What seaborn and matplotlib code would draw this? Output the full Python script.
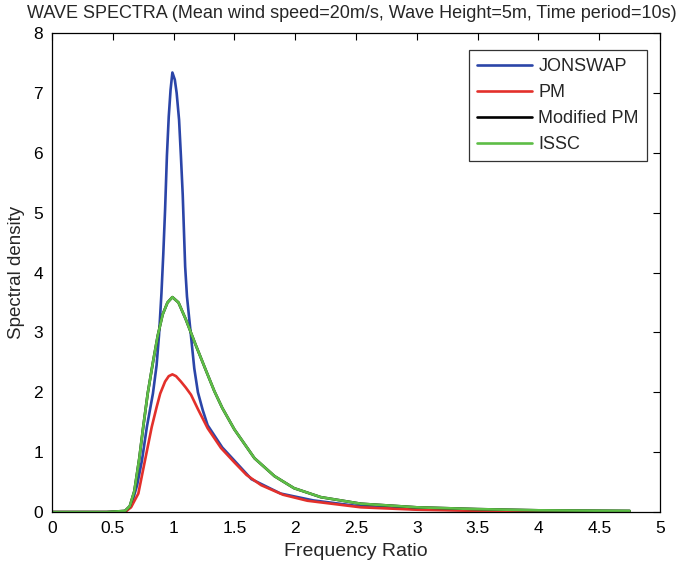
import numpy as np
import pandas as pd
import matplotlib
matplotlib.use('Agg')
import matplotlib.pyplot as plt
import seaborn as sns

sns.set_style('white')
plt.rcParams['font.family'] = ['Liberation Sans', 'DejaVu Sans']

# values
jonswap_x = [0, 0.6, 0.65, 0.7, 0.74, 0.78, 0.83, 0.86, 0.88, 0.9, 0.915, 0.93, 0.945, 0.96, 0.975,
             0.99, 1.01, 1.025, 1.045, 1.06, 1.075, 1.085, 1.095, 1.11, 1.13, 1.15, 1.17, 1.2,
             1.24, 1.28, 1.4, 1.5, 1.64, 1.88, 2.15, 2.48, 3.0, 3.5, 4.0, 4.75]
jonswap_y = [0, 0, 0.1, 0.45, 0.865, 1.42, 1.98, 2.45, 2.95, 3.65, 4.3, 5.05, 5.95, 6.6, 7.05,
             7.34, 7.22, 7.0, 6.55, 5.95, 5.3, 4.7, 4.1, 3.6, 3.2, 2.8, 2.4, 2.0,
             1.7, 1.45, 1.08, 0.86, 0.55, 0.31, 0.195, 0.11, 0.05, 0.03, 0.02, 0.01]

pm_x = [0, 0.6, 0.65, 0.71, 0.765, 0.82, 0.86, 0.89, 0.93, 0.96, 0.99, 1.02, 1.06, 1.1, 1.143,
        1.2, 1.28, 1.39, 1.5, 1.6, 1.72, 1.9, 2.1, 2.54, 3.0, 3.5, 4.0, 4.75]
pm_y = [0, 0, 0.08, 0.31, 0.865, 1.42, 1.75, 1.98, 2.18, 2.27, 2.3, 2.27, 2.18, 2.08, 1.96,
        1.72, 1.4, 1.07, 0.83, 0.62, 0.45, 0.29, 0.19, 0.08, 0.04, 0.02, 0.01, 0.005]

issc_x = [0, 0.45, 0.6, 0.64, 0.677, 0.718, 0.75, 0.787, 0.83, 0.87, 0.91, 0.95, 0.99, 1.04,
          1.1, 1.18, 1.265, 1.335, 1.4, 1.5, 1.665, 1.83, 1.99, 2.21, 2.54, 3.0, 3.5, 4.0, 4.75]
issc_y = [0, 0, 0.02, 0.1, 0.35, 0.9, 1.42, 1.98, 2.5, 2.95, 3.3, 3.5, 3.59, 3.5,
          3.22, 2.8, 2.37, 2.02, 1.74, 1.38, 0.9, 0.6, 0.4, 0.25, 0.14, 0.08, 0.05, 0.03, 0.02]

# Modified PM lies under ISSC in the picture
modpm_x = list(issc_x)
modpm_y = list(issc_y)

series = ['JONSWAP', 'PM', 'Modified PM', 'ISSC']
colors = {'JONSWAP': '#2b45a8', 'PM': '#e3302b', 'Modified PM': '#000000', 'ISSC': '#5dbd46'}

frames = []
for name, xs, ys in [('JONSWAP', jonswap_x, jonswap_y), ('PM', pm_x, pm_y),
                     ('Modified PM', modpm_x, modpm_y), ('ISSC', issc_x, issc_y)]:
    frames.append(pd.DataFrame({'freq': xs, 'density': ys, 'spectrum': name}))
df = pd.concat(frames, ignore_index=True)

fig = plt.figure(figsize=(6.84, 5.64), dpi=100)
ax = fig.add_axes([0.076, 0.092, 0.889, 0.8495])

sns.lineplot(data=df, x='freq', y='density', hue='spectrum', hue_order=series,
             palette=colors, sort=False, estimator=None, linewidth=1.9, ax=ax)

ax.set_xlim(0, 5)
ax.set_ylim(0, 8)
xt = np.arange(0, 5.01, 0.5)
ax.set_xticks(xt)
ax.set_xticklabels(['0', '0.5', '1', '1.5', '2', '2.5', '3', '3.5', '4', '4.5', '5'])
ax.set_yticks(range(0, 9))
ax.tick_params(direction='in', top=True, right=True, labelsize=12.5, length=5, width=0.8,
               colors='black', pad=6.5)
for s in ax.spines.values():
    s.set_color('black')
    s.set_linewidth(0.9)

ax.set_xlabel('Frequency Ratio', fontsize=14, labelpad=5)
ax.set_ylabel('Spectral density', fontsize=13.5, labelpad=6)
fig.text(352 / 684, 1 - 14 / 564, 'WAVE SPECTRA (Mean wind speed=20m/s, Wave Height=5m, Time period=10s)',
         fontsize=13.0, ha='center', va='center')

leg = ax.legend(loc='upper right', bbox_to_anchor=(0.9786, 0.9645), borderaxespad=0,
                fontsize=13, frameon=True, fancybox=False, edgecolor='black',
                handlelength=3.05, handletextpad=0.35, labelspacing=0.5, borderpad=0.45)
leg.get_frame().set_linewidth(0.9)
leg.set_title(None)

fig.savefig('out.png', dpi=100)
plt.close()
